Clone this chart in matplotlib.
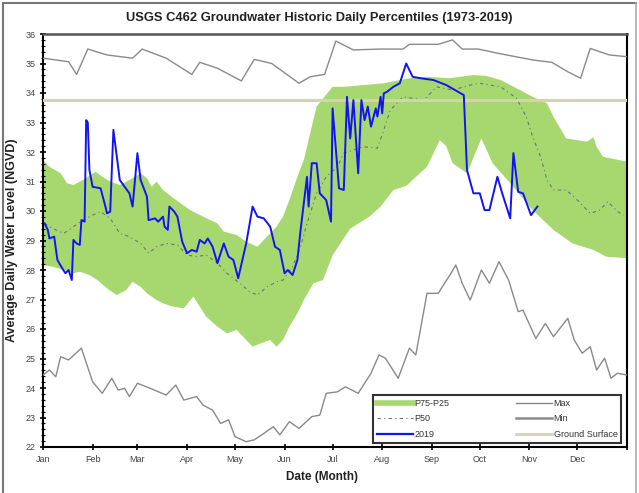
import numpy as np
import matplotlib
matplotlib.use("Agg")
import matplotlib.pyplot as plt
from matplotlib.lines import Line2D

plt.rcParams['font.family'] = ['Liberation Sans', 'DejaVu Sans']

# ---------------- data (day of year, water level ft NGVD) ----------------
month_ticks = [0, 31, 59, 90, 120, 151, 181, 212, 243, 273, 304, 334, 365]
month_labels = ["Jan", "Feb", "Mar", "Apr", "May", "Jun", "Jul", "Aug", "Sep", "Oct", "Nov", "Dec", ""]

ground_surface = 33.77

p75_day = [0, 4, 11, 15, 19, 25, 28, 33, 37, 42, 48, 54, 61, 65, 68, 71, 75, 79, 86, 92,
           100, 109, 113, 121, 127, 134, 138, 142, 146, 150, 154, 159, 163, 171, 181, 188,
           213, 229, 240, 254, 269, 277, 286, 296, 306, 315, 319, 327, 340, 344, 346, 350, 365]
p75_val = [31.73, 31.5, 31.28, 30.94, 30.88, 31.05, 31.16, 31.33, 31.16, 31.0, 30.88, 31.05,
           31.28, 31.11, 30.82, 31.0, 30.71, 30.54, 30.26, 30.03, 29.81, 29.58, 29.3, 29.19,
           28.96, 28.79, 29.02, 29.24, 29.47, 29.81, 30.37, 31.16, 31.73, 33.54, 34.21, 34.21,
           34.33, 34.5, 34.55, 34.5, 34.61, 34.58, 34.44, 34.16, 33.87, 33.65, 33.2, 32.46,
           32.35, 32.5, 32.18, 31.84, 31.67]

p25_day = [0, 6, 13, 19, 23, 29, 34, 40, 46, 52, 56, 61, 65, 71, 75, 81, 88, 94, 98, 102,
           109, 115, 121, 127, 131, 136, 142, 146, 150, 154, 159, 163, 169, 175, 181, 192,
           204, 211, 219, 227, 240, 248, 252, 256, 265, 274, 281, 294, 306, 319, 331, 344, 352, 365]
p25_val = [28.17, 28.11, 28.0, 27.89, 27.94, 27.83, 27.66, 27.38, 27.15, 27.32, 27.6, 27.43,
           27.21, 26.98, 26.87, 26.76, 26.7, 27.1, 26.76, 26.42, 26.08, 25.85, 25.97, 25.63,
           25.4, 25.51, 25.63, 25.4, 25.63, 26.08, 26.53, 26.98, 27.55, 27.66, 28.5, 29.4,
           29.81, 30.15, 30.71, 30.85, 31.5, 32.4, 32.2, 31.62, 31.28, 32.46, 31.62, 30.82,
           30.03, 29.36, 28.9, 28.68, 28.45, 28.4]

p50_day = [1, 6, 13, 19, 25, 31, 36, 42, 48, 54, 61, 66, 71, 77, 84, 90, 96, 102, 109, 115,
           123, 129, 134, 140, 146, 150, 156, 161, 165, 171, 177, 184, 188, 200, 209, 213,
           217, 225, 231, 238, 246, 256, 267, 273, 286, 296, 302, 306, 311, 315, 319, 327,
           334, 342, 348, 353, 359, 363]
p50_val = [29.58, 29.41, 29.24, 29.47, 29.69, 29.86, 29.98, 29.75, 29.24, 29.13, 28.9, 28.57,
           28.79, 28.9, 28.85, 28.51, 28.45, 28.51, 28.23, 27.89, 27.55, 27.27, 27.15, 27.43,
           27.6, 27.66, 28.11, 28.79, 29.58, 30.6, 31.16, 31.5, 31.96, 32.18, 32.13, 32.75,
           33.42, 33.87, 33.82, 33.76, 34.21, 34.1, 34.27, 34.33, 34.21, 33.82, 33.2, 32.52,
           31.84, 31.05, 30.71, 30.71, 30.37, 29.92, 30.03, 30.32, 29.98, 29.86]

max_day = [0, 16, 21, 28, 40, 56, 62, 77, 93, 98, 109, 124, 132, 143, 160, 167, 176, 183,
           194, 211, 225, 229, 247, 256, 262, 272, 284, 306, 318, 328, 336, 342, 354, 365]
max_val = [35.18, 35.06, 34.63, 35.49, 35.29, 35.18, 35.49, 35.18, 34.63, 35.04, 34.84, 34.41,
           35.14, 35.0, 34.33, 34.55, 34.63, 35.76, 35.46, 35.49, 35.49, 35.65, 35.65, 35.8,
           35.49, 35.49, 35.35, 35.12, 35.04, 34.72, 34.5, 35.51, 35.29, 35.23]

min_day = [0, 4, 8, 11, 16, 24, 31, 37, 43, 47, 51, 54, 59, 67, 77, 83, 88, 96, 100, 106,
           111, 116, 120, 127, 132, 138, 144, 148, 154, 160, 168, 173, 177, 184, 189, 197,
           205, 210, 214, 222, 229, 233, 240, 247, 255, 258, 262, 267, 274, 279, 285, 291,
           297, 300, 308, 314, 319, 328, 332, 337, 342, 346, 351, 355, 359, 365]
min_val = [24.44, 24.61, 24.38, 25.06, 24.95, 25.35, 24.21, 23.82, 24.33, 23.93, 23.99, 23.71,
           24.16, 23.99, 23.76, 24.1, 23.59, 23.71, 23.42, 23.25, 22.8, 22.92, 22.35, 22.18,
           22.24, 22.46, 22.69, 22.41, 22.86, 22.63, 23.03, 23.08, 23.82, 23.87, 24.04, 23.82,
           24.5, 25.12, 25.01, 24.33, 25.35, 25.12, 27.21, 27.21, 27.89, 28.17, 27.55, 26.98,
           28.0, 27.55, 28.28, 27.66, 26.59, 26.64, 25.68, 26.19, 25.74, 26.36, 25.63, 25.18,
           25.4, 24.61, 25.01, 24.33, 24.5, 24.44]

y2019_day = [1, 3, 4, 7, 9, 12, 14, 16, 18, 19, 21, 23, 24, 26, 27, 28, 29, 31, 36, 39, 40,
             42, 44, 48, 54, 56, 59, 61, 65, 66, 70, 72, 75, 76, 78, 79, 82, 84, 87, 90, 93,
             96, 98, 101, 103, 106, 109, 113, 116, 119, 122, 127, 131, 134, 138, 142, 145,
             148, 151, 153, 156, 159, 161, 165, 166, 168, 171, 173, 177, 180, 181, 185, 188,
             190, 192, 194, 197, 199, 201, 203, 205, 208, 209, 211, 212, 213, 215, 219, 223,
             227, 231, 236, 244, 252, 263, 265, 269, 273, 276, 279, 284, 287, 292, 294, 297,
             300, 305, 309]
y2019_val = [29.58, 29.36, 29.07, 29.13, 28.34, 28.06, 27.89, 28.0, 27.66, 29.02, 28.9, 28.85,
             29.69, 29.64, 33.08, 33.0, 31.39, 30.82, 30.77, 30.15, 29.92, 29.98, 32.75, 31.05,
             30.6, 30.15, 31.96, 31.05, 30.48, 29.69, 29.75, 29.64, 29.81, 29.47, 29.36, 30.15,
             29.98, 29.81, 28.96, 28.57, 28.68, 28.62, 29.02, 28.9, 29.07, 28.79, 28.23, 28.9,
             28.45, 28.34, 27.72, 28.9, 30.15, 29.81, 29.75, 29.47, 28.79, 28.68, 27.89, 28.0,
             27.83, 28.34, 29.36, 31.16, 30.15, 31.62, 31.62, 30.6, 30.37, 29.64, 33.48, 30.77,
             30.71, 33.87, 32.46, 33.76, 31.28, 33.76, 33.08, 33.54, 32.86, 33.48, 33.2, 33.87,
             33.31, 33.99, 34.04, 34.21, 34.33, 35.0, 34.55, 34.5, 34.44, 34.27, 33.93, 31.39,
             30.6, 30.6, 30.03, 30.03, 31.16, 30.6, 29.75, 31.96, 30.65, 30.6, 29.86, 30.15]

# ---------------- colours ----------------
green = '#a7d870'
blue = '#1414f0'
grey = '#8a8a8a'
ground_col = '#d6d0b8'

fig = plt.figure(figsize=(6.39, 4.93), dpi=100)
ax = fig.add_axes([43/639, 46/493, 584/639, 413/493])

ax.fill(list(p75_day) + list(p25_day[::-1]), list(p75_val) + list(p25_val[::-1]),
        color=green, lw=0, zorder=1)
ax.plot(p50_day, p50_val, color='#707070', lw=0.8, ls=(0, (3, 3, 1, 3)), zorder=2)
ax.plot(max_day, max_val, color=grey, lw=1.0, zorder=3)
ax.plot(min_day, min_val, color=grey, lw=1.0, zorder=3)
ax.axhline(ground_surface, color=ground_col, lw=2.2, zorder=3)
ax.plot(y2019_day, y2019_val, color=blue, lw=1.4, zorder=4)

ax.set_xlim(0, 365)
ax.set_ylim(22, 36)
ax.set_xticks(month_ticks)
ax.set_xticklabels(month_labels)
ax.set_yticks(np.arange(22, 37, 1))
ax.set_yticks(np.arange(22, 36.01, 0.2), minor=True)
ax.tick_params(axis='both', which='major', direction='inout', length=5, width=1.2,
               labelsize=6.5, labelcolor='#444444', pad=3)
ax.tick_params(axis='y', which='minor', direction='inout', length=3, width=0.8)
for s in ['left', 'bottom', 'right']:
    ax.spines[s].set_linewidth(1.5)
    ax.spines[s].set_color('black')
ax.spines['top'].set_linewidth(1.8)
ax.spines['top'].set_color('#555555')

fig.text(0.5, 1 - 18/493, "USGS C462 Groundwater Historic Daily Percentiles (1973-2019)",
         fontsize=9.3, fontweight='bold', color='#222222', ha='center', va='center')
ax.set_xlabel("Date (Month)", fontsize=8.5, fontweight='bold', color='#222222')
ax.xaxis.set_label_coords((322 - 43) / 584, -0.058)
ax.set_ylabel("Average Daily Water Level (NGVD)", fontsize=9, fontweight='bold',
              color='#222222', labelpad=5)

handles = [
    Line2D([], [], color=green, lw=4),
    Line2D([], [], color='#707070', lw=0.8, ls=(0, (3, 3, 1, 3))),
    Line2D([], [], color=blue, lw=1.6),
    Line2D([], [], color=grey, lw=1.0),
    Line2D([], [], color=grey, lw=1.8),
    Line2D([], [], color=ground_col, lw=2),
]
labels = ["P75-P25", "P50", "2019", "Max", "Min", "Ground Surface"]
leg = ax.legend(handles, labels, ncol=2, loc='lower left',
                bbox_to_anchor=(0.565, 0.01, 0.425, 0.128), mode='expand',
                fontsize=6.5, handlelength=4.0, handletextpad=0.2, labelspacing=0.75,
                borderpad=0.4, frameon=True, fancybox=False, borderaxespad=0.0,
                labelcolor='#333333')
leg.get_frame().set_edgecolor('black')
leg.get_frame().set_linewidth(1.5)
leg.set_zorder(10)

# outer frame of the chart
fig.add_artist(Line2D([3/639, 3/639], [0, 1 - 3/493], transform=fig.transFigure, color='#777777', lw=1.5))
fig.add_artist(Line2D([3/639, 636/639], [1 - 3/493, 1 - 3/493], transform=fig.transFigure, color='#777777', lw=1.5))
fig.add_artist(Line2D([636/639, 636/639], [0, 1 - 3/493], transform=fig.transFigure, color='#aaaaaa', lw=1.2))

fig.savefig("out.png", dpi=100)
